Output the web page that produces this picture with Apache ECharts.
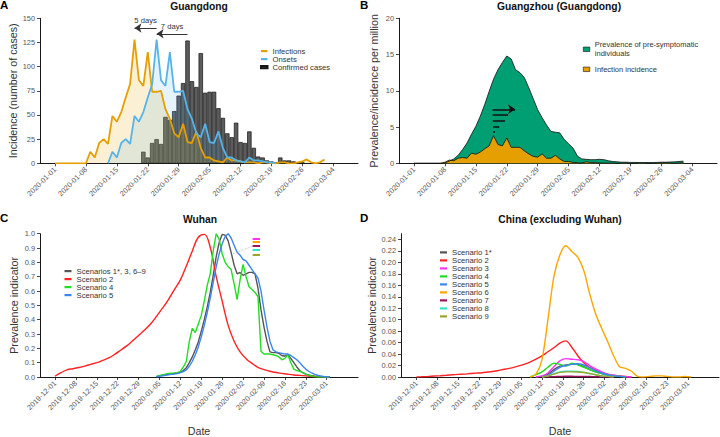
<!DOCTYPE html>
<html><head><meta charset="utf-8">
<script src="https://cdn.jsdelivr.net/npm/echarts@6/dist/echarts.min.js"></script>
<style>html,body{margin:0;padding:0;background:#fff}#c{width:720px;height:437px}</style>
</head><body><div id="c"></div>
<script>
const _ = null;
// ---------- tick labels ----------
const abTickLabels = ['2020-01-01','2020-01-08','2020-01-15','2020-01-22','2020-01-29','2020-02-05','2020-02-12','2020-02-19','2020-02-26','2020-03-04'];
const cdTickLabels = ['2019-12-01','2019-12-08','2019-12-15','2019-12-22','2019-12-29','2020-01-05','2020-01-12','2020-01-19','2020-01-26','2020-02-02','2020-02-09','2020-02-16','2020-02-23','2020-03-01'];
const aYTicks = [0,25,50,75,100,125,150];
const bYTicks = [0,5,10,15,20];
const cYTicks = [0,0.1,0.2,0.3,0.4,0.5,0.6,0.7,0.8,0.9,1.0];
const dYTicks = [0,0.02,0.04,0.06,0.08,0.10,0.12,0.14,0.16,0.18,0.20,0.22,0.24];

// ---------- panel A: Guangdong (daily from 2020-01-01, 62 days) ----------
const abStart = '2020-01-01', abDays = 62;
const infections = [0,0,0,0,0,0,0,0, 12,6,21,25,20, 49,43,53,68,82, 128,86,80,115,74, 74,75,56,46,31,
  27,41,22,21,33, 16,6,6,3,2, 1,6,3,3,2, 1,1,1,0,1, 1,0,0,1,1, 0,0,1,2,4, 1,0,1,4];
const onsets = [_,_,_,_,_,_,_,_,_,_,_,_, 0,12,6,21,25, 20,49,43,53,68, 82,128,86,80,115, 74,74,75,56,46,
  31,27,41,22,21, 33,16,6,6,3, 2,1,6,3,3, 2,1,1,0,_, _,_,_,_,_, _,_,_,_,_];
const confirmed = [_,_,_,_,_,_,_,_,_,_,_,_,_,_,_,_,_,_,_,_, 12,6,21,25,20, 48,45,54,70,83, 127,85,79,114,73,
  74,74,57,47,31, 27,42,22,21,33, 16,7,6,3,2, 1,6,3,3,2, 1,1,_,_,_, _,_];

// ---------- panel B: Guangzhou ----------
const prevalence = [0,0,0,0,0,0,0, 0.05,0.3,0.6,1.1,1.9, 2.8,4.0,5.1,6.5,8.1, 9.9,11.6,12.9,13.9,14.8,
  14.4,12.9,12.5,11.8,10.4, 8.9,7.4,6.3,5.3,4.4, 4.3,4.2,3.3,2.7,2.1, 1.0,0.6,0.55,0.5,0.5,
  0.55,0.5,0.35,0.25,0.2, 0.15,0.15,0.12,0.12,0.1, 0.1,0.1,0.1,0.12,0.15, 0.15,0.18,0.2,0.25,0.3];
const incidence = [0,0,0,0,0,0,0, 0.15,0.45,0.35,0.7,0.8, 0.7,1.4,1.25,1.55,2.0, 2.4,3.8,2.6,2.4,3.5,
  2.2,2.2,2.2,1.7,1.3, 0.95,0.85,1.3,0.7,0.7, 1.1,0.6,0.25,0.25,0.12, 0.1,0.05,0.2,0.1,0.1,
  0.05,0.03,0.03,0.03,0, 0.03,0.03,0,0,0.03, 0.03,0,0,0.03,0.05, 0.1,0.03,0,0.03,0.1];

// ---------- panel C: Wuhan ----------
const cd2Start = '2019-12-01', cd2Days = 47, cd2Step = 2;   // every 2 days
const cDailyStart = '2020-01-04', cDailyDays = 59;           // daily
const wuhanS2 = [0.005,0.03,0.05,0.058,0.066, 0.076,0.088,0.1,0.116,0.133, 0.158,0.187,0.217,0.253,0.29,
  0.328,0.37,0.423,0.48,0.54, 0.61,0.678,0.775,0.88,0.975, 0.995,0.905,0.7,0.53,0.36,
  0.25,0.175,0.128,0.095,0.068, 0.052,0.04,0.031,0.025,0.019, 0.014,0.011,0.008,0.005,0.003, 0.002,0.001];
const wuhanS1 = [0.003,0.008,0.012,0.016,0.02, 0.022,0.025,0.028,0.033,0.045, 0.065,0.1,0.14,0.19,0.245,
  0.32,0.4,0.49,0.59,0.71, 0.84,0.94,0.995,0.99,0.95, 0.87,0.78,0.72,0.73,0.71, 0.72,0.73,0.73,0.72,0.62,
  0.47,0.35,0.25,0.175,0.17, 0.17,0.165,0.15,0.145,0.155, 0.13,0.1,0.07,0.045,0.03, 0.02,0.014,0.01,0.006,0.004, 0.002,0.001,0,0];
const wuhanS5 = [0.002,0.005,0.008,0.012,0.015, 0.018,0.02,0.024,0.03,0.038, 0.05,0.075,0.11,0.155,0.21,
  0.28,0.36,0.45,0.55,0.66, 0.77,0.86,0.93,0.98,1.0, 0.97,0.92,0.87,0.85,0.82, 0.81,0.78,0.75,0.72,0.69,
  0.6,0.47,0.35,0.25,0.19, 0.175,0.17,0.165,0.16,0.16, 0.15,0.135,0.12,0.1,0.075, 0.055,0.04,0.028,0.018,0.012, 0.007,0.004,0.002,0];
const wuhanS4 = [0.005,0.01,0.015,0.02,0.025, 0.027,0.028,0.03,0.04,0.07, 0.11,0.25,0.34,0.31,0.37,
  0.43,0.53,0.64,0.72,0.88, 1.0,0.96,0.86,0.8,0.77, 0.75,0.65,0.54,0.68,0.785, 0.7,0.63,0.61,0.59,0.56,
  0.18,0.16,0.16,0.16,0.155, 0.15,0.14,0.12,0.13,0.155, 0.1,0.055,0.045,0.04,0.03, 0.02,0.012,0.007,0.003,0, 0,0,0,0];

// ---------- panel D: China excluding Wuhan (every 2 days from 2019-12-01) ----------
const chinaS2 = [0,0.0005,0.001,0.0017,0.0023, 0.003,0.0038,0.0045,0.005,0.006, 0.0067,0.0075,0.0088,0.01,0.012,
  0.014,0.016,0.019,0.022,0.026, 0.031,0.037,0.044,0.051,0.059, 0.063,0.052,0.037,0.025,0.017,
  0.012,0.008,0.005,0.003,0.002, 0.001,0,_,_,_, _,_,_,_,_, _,_];
const chinaS1 = [_,_,_,_,_,_,_,_,_,_,_,_,_,_,_,_,_,_,_,_, 0,0.001,0.005,0.013,0.019, 0.021,0.022,0.022,0.018,0.013,
  0.009,0.006,0.003,0.002,0.001, 0,_,_,_,_, _,_,_,_,_, _,_];
const chinaS3 = [_,_,_,_,_,_,_,_,_,_,_,_,_,_,_,_,_,_,_,_, 0,0.002,0.007,0.018,0.028, 0.032,0.031,0.03,0.027,0.02,
  0.014,0.009,0.005,0.003,0.0015, 0.0005,0,_,_,_, _,_,_,_,_, _,_];
const chinaS4 = [_,_,_,_,_,_,_,_,_,_,_,_,_,_,_,_,_,_,_, 0, 0.004,0.009,0.017,0.024,0.022, 0.019,0.024,0.021,0.017,0.013,
  0.009,0.006,0.004,0.002,0.001, 0,_,_,_,_, _,_,_,_,_, _,_];
const chinaS5 = [_,_,_,_,_,_,_,_,_,_,_,_,_,_,_,_,_,_,_,_,_, 0, 0.003,0.01,0.017,0.02,0.022, 0.023,0.021,0.016,0.011,0.007,
  0.004,0.002,0.001,0,_, _,_,_,_,_, _,_,_,_,_];
const chinaS6 = [_,_,_,_,_,_,_,_,_,_,_,_,_,_,_,_,_,_,_, 0, 0.005,0.03,0.1,0.175,0.213, 0.229,0.219,0.209,0.186,0.145,
  0.11,0.085,0.062,0.037,0.018, 0.015,0.01,0.001,0,0.001, 0.002,0.002,0.001,0,0, 0.001,0];
const chinaS7 = [_,_,_,_,_,_,_,_,_,_,_,_,_,_,_,_,_,_,_,_,_, 0, 0.0003,0.0007,0.001,0.0012,0.0012, 0.0011,0.001,0.0008,0.0005,0.0003,
  0.0001,0,_,_,_, _,_,_,_,_, _,_,_,_,_];
const chinaS8 = [_,_,_,_,_,_,_,_,_,_,_,_,_,_,_,_,_,_,_,_,_, 0, 0.002,0.006,0.009,0.01,0.01, 0.0095,0.008,0.006,0.004,0.002,
  0.001,0,_,_,_, _,_,_,_,_, _,_,_,_,_];
const chinaS9 = [_,_,_,_,_,_,_,_,_,_,_,_,_,_,_,_,_,_,_,_,_, 0, 0.002,0.005,0.008,0.009,0.009, 0.0088,0.0078,0.006,0.004,0.002,
  0.001,0,_,_,_, _,_,_,_,_, _,_,_,_,_];

// ---------- helpers ----------
const DAY = 864e5, EPOCH = Date.UTC(2020,0,1);
const FONT = '"Liberation Sans", Arial, Helvetica, sans-serif';
function dayOf(s){ const p = s.split('-'); return (Date.UTC(+p[0], +p[1]-1, +p[2]) - EPOCH) / DAY; }
function dateSeq(start, n, step){ const d0 = dayOf(start), out = []; for (let i=0;i<n;i++){ out.push(new Date(EPOCH + (d0 + i*(step||1))*DAY).toISOString().slice(0,10)); } return out; }
function pairs(dates, vals){ const r=[]; vals.forEach((v,i)=>{ if (v != null) r.push([dayOf(dates[i]), v]); }); return r; }
const abDates = dateSeq(abStart, abDays, 1);
const cd2Dates = dateSeq(cd2Start, cd2Days, cd2Step);
const cDailyDates = dateSeq(cDailyStart, cDailyDays, 1);

function xAx(gi, min, max, labels, name){
  const vals = labels.map(dayOf);
  const ax = {type:'value', gridIndex:gi, min, max,
    axisLine:{show:true, onZero:false, lineStyle:{color:'#1a1a1a', width:1}},
    axisTick:{show:true, customValues:vals, length:3, lineStyle:{color:'#1a1a1a', width:0.8}},
    axisLabel:{show:true, customValues:vals, rotate:45, margin:5, fontSize:7.4, color:'#555', fontFamily:FONT,
      formatter: v => { const i = vals.indexOf(Math.round(v)); return i >= 0 ? labels[i] : ''; }},
    splitLine:{show:false}};
  if (name) Object.assign(ax, {name, nameLocation:'middle', nameGap:48, nameTextStyle:{fontSize:10.7, color:'#333', fontFamily:FONT}});
  return ax;
}
function yAx(gi, max, ticks, name, gap, dec){
  return {type:'value', gridIndex:gi, min:0, max,
    name, nameLocation:'middle', nameGap:gap, nameTextStyle:{fontSize:10.7, color:'#333', fontFamily:FONT},
    axisLine:{show:true, onZero:false, lineStyle:{color:'#1a1a1a', width:1}},
    axisTick:{show:true, customValues:ticks, length:3, lineStyle:{color:'#1a1a1a', width:0.8}},
    axisLabel:{customValues:ticks, margin:5, fontSize:7.4, color:'#555', fontFamily:FONT, formatter: v => v.toFixed(dec)},
    splitLine:{show:false}};
}
function ln(name, gi, dates, vals, color, width, extra){
  return Object.assign({type:'line', name, xAxisIndex:gi, yAxisIndex:gi, data:pairs(dates, vals), symbol:'none', showSymbol:false,
    color, itemStyle:{color}, lineStyle:{color, width}, animation:false}, extra || {});
}

const ORANGE='#E69F00', BLUE='#56B4E9', GREEN='#009E73';
const cGrey='#555555', cRed='#FF2222', cGreen='#22DD22', cBlue='#3A86F5', cMag='#FF33FF', cOr='#FFA500', cMar='#A0145E', cCyan='#2DE6C8', cOlive='#9BA52A';

const series = [
  // ---- A ----
  {type:'bar', name:'Confirmed cases', xAxisIndex:0, yAxisIndex:0, data:pairs(abDates, confirmed), barWidth:4.4,
    itemStyle:{color:'#5c5c5c', borderColor:'#151515', borderWidth:0.7}, animation:false},
  ln('Infections area', 0, abDates, infections, ORANGE, 0, {lineStyle:{width:0}, areaStyle:{color:'rgba(230,159,0,0.24)'}, silent:true}),
  ln('Onsets area', 0, abDates, onsets, BLUE, 0, {lineStyle:{width:0}, areaStyle:{color:'rgba(86,180,233,0.22)'}, silent:true}),
  ln('Infections', 0, abDates, infections, ORANGE, 1.8),
  ln('Onsets', 0, abDates, onsets, BLUE, 1.8, {markLine:{silent:true, animation:false, symbol:['arrow','none'], symbolSize:7,
    lineStyle:{color:'#333', width:1, type:'solid'},
    label:{show:true, position:'middle', formatter:'{b}', fontSize:7.6, color:'#333', fontFamily:FONT, distance:3},
    data:[
      [{name:'5 days', coord:[dayOf('2020-01-19'), 140]}, {coord:[dayOf('2020-01-24'), 140]}],
      [{name:'7 days', coord:[dayOf('2020-01-24'), 134]}, {coord:[dayOf('2020-01-31'), 134]}]
    ]}}),
  // ---- B ----
  ln('Prevalence of pre-symptomatic individuals', 1, abDates, prevalence, GREEN, 0.8,
    {lineStyle:{color:'#111', width:0.8}, areaStyle:{color:GREEN, opacity:1},
     markLine:{silent:true, animation:false, symbol:'none', lineStyle:{color:'#111', width:1.5, type:'solid'}, label:{show:false},
      data:[
        [{coord:[17.8,7.45]}, {coord:[22.9,7.45], symbol:'arrow', symbolSize:7}],
        [{coord:[17.8,6.66]}, {coord:[21.3,6.66]}],
        [{coord:[17.8,5.9]}, {coord:[20.6,5.9]}],
        [{coord:[17.9,5.1]}, {coord:[19.3,5.1]}],
        [{coord:[17.95,4.36]}, {coord:[18.35,4.36]}]
      ]}}),
  ln('Infection incidence', 1, abDates, incidence, ORANGE, 0.8, {lineStyle:{color:'#111', width:0.8}, areaStyle:{color:ORANGE, opacity:1}}),
  // ---- C ----
  ln('Scenarios 1*, 3, 6–9', 2, cDailyDates, wuhanS1, cGrey, 1.4, {markLine:{silent:true, animation:false, symbol:'none', label:{show:false},
    data:[
      [{coord:[28.7,0.861], lineStyle:{color:'#aaaaaa', width:0.8, type:'dotted'}}, {coord:[35.4,0.914]}],
      [{coord:[35.2,0.966], lineStyle:{color:cMag, width:2, type:'solid'}}, {coord:[37.7,0.966]}],
      [{coord:[35.2,0.943], lineStyle:{color:cOr, width:2, type:'solid'}}, {coord:[37.7,0.943]}],
      [{coord:[35.2,0.914], lineStyle:{color:cMar, width:2, type:'solid'}}, {coord:[37.7,0.914]}],
      [{coord:[35.2,0.886], lineStyle:{color:cCyan, width:2, type:'solid'}}, {coord:[37.7,0.886]}],
      [{coord:[35.2,0.856], lineStyle:{color:cOlive, width:2, type:'solid'}}, {coord:[37.7,0.856]}]
    ]}}),
  ln('Scenario 2', 2, cd2Dates, wuhanS2, cRed, 1.4, {smooth:0.4}),
  ln('Scenario 4', 2, cDailyDates, wuhanS4, cGreen, 1.4),
  ln('Scenario 5', 2, cDailyDates, wuhanS5, cBlue, 1.4),
  // ---- D ----
  ln('Scenario 1*', 3, cd2Dates, chinaS1, cGrey, 1.4, {smooth:0.3}),
  ln('Scenario 2', 3, cd2Dates, chinaS2, cRed, 1.4, {smooth:0.3}),
  ln('Scenario 3', 3, cd2Dates, chinaS3, cMag, 1.4, {smooth:0.3}),
  ln('Scenario 4', 3, cd2Dates, chinaS4, cGreen, 1.4, {smooth:0.3}),
  ln('Scenario 5', 3, cd2Dates, chinaS5, cBlue, 1.4, {smooth:0.3}),
  ln('Scenario 6', 3, cd2Dates, chinaS6, cOr, 1.4, {smooth:0.3}),
  ln('Scenario 7', 3, cd2Dates, chinaS7, cMar, 1.4, {smooth:0.3}),
  ln('Scenario 8', 3, cd2Dates, chinaS8, cCyan, 1.4, {smooth:0.3}),
  ln('Scenario 9', 3, cd2Dates, chinaS9, cOlive, 1.4, {smooth:0.3})
];

const legText = {fontSize:7.7, color:'#333', fontFamily:FONT};
const option = {
  animation:false,
  textStyle:{fontFamily:FONT},
  grid:[
    {left:40, top:18.3, width:318, height:145},
    {left:399, top:18.3, width:318, height:145},
    {left:40, top:233.7, width:318, height:146},
    {left:401, top:233.7, width:318, height:146}
  ],
  xAxis:[
    xAx(0, -3.4, 68.6, abTickLabels),
    xAx(1, -3.4, 68.6, abTickLabels),
    xAx(2, -36.03, 70.5, cdTickLabels, 'Date'),
    xAx(3, -36.2, 70.3, cdTickLabels, 'Date')
  ],
  yAxis:[
    yAx(0, 150, aYTicks, 'Incidence (number of cases)', 20.5, 0),
    yAx(1, 20, bYTicks, 'Prevalence/incidence per million', 19.6, 0),
    yAx(2, 1.0, cYTicks, 'Prevalence indicator', 20.6, 1),
    yAx(3, 0.25, dYTicks, 'Prevalence indicator', 22.3, 2)
  ],
  legend:[
    {data:['Infections','Onsets','Confirmed cases'], left:260, top:47.1, orient:'vertical', icon:'rect',
      itemWidth:6.5, itemHeight:2.2, itemGap:0, selectedMode:false, padding:0,
      textStyle:Object.assign({lineHeight:7.7}, legText)},
    {data:[{name:'Prevalence of pre-symptomatic individuals', textStyle:{padding:[9,0,0,0]}}, 'Infection incidence'],
      formatter: n => n === 'Prevalence of pre-symptomatic individuals' ? 'Prevalence of pre-symptomatic\nindividuals' : n,
      left:583, top:35.8, orient:'vertical', icon:'rect', itemWidth:6.5, itemHeight:4.5, itemGap:2, selectedMode:false, padding:0,
      itemStyle:{borderColor:'#111', borderWidth:0.6},
      textStyle:{fontSize:7.5, color:'#333', fontFamily:FONT, lineHeight:9}},
    {data:['Scenarios 1*, 3, 6–9','Scenario 2','Scenario 4','Scenario 5'], left:64.5, top:267.1, orient:'vertical', icon:'rect',
      itemWidth:7, itemHeight:2.2, itemGap:0, selectedMode:false, padding:0, textStyle:Object.assign({lineHeight:7.2}, legText)},
    {data:['Scenario 1*','Scenario 2','Scenario 3','Scenario 4','Scenario 5','Scenario 6','Scenario 7','Scenario 8','Scenario 9'],
      left:440, top:248.4, orient:'vertical', icon:'rect', itemWidth:7, itemHeight:2.2, itemGap:0, selectedMode:false, padding:0,
      textStyle:Object.assign({lineHeight:7.2}, legText)}
  ],
  graphic:[
    {type:'text', x:0, y:5, style:{text:'A', font:'bold 11.5px '+FONT, fill:'#000', verticalAlign:'middle'}},
    {type:'text', x:360, y:5, style:{text:'B', font:'bold 11.5px '+FONT, fill:'#000', verticalAlign:'middle'}},
    {type:'text', x:0, y:218, style:{text:'C', font:'bold 11.5px '+FONT, fill:'#000', verticalAlign:'middle'}},
    {type:'text', x:360, y:218, style:{text:'D', font:'bold 11.5px '+FONT, fill:'#000', verticalAlign:'middle'}},
    {type:'text', x:199, y:6.5, style:{text:'Guangdong', font:'bold 10.3px '+FONT, fill:'#111', align:'center', verticalAlign:'middle'}},
    {type:'text', x:559, y:6.5, style:{text:'Guangzhou (Guangdong)', font:'bold 10.3px '+FONT, fill:'#111', align:'center', verticalAlign:'middle'}},
    {type:'text', x:200, y:219.5, style:{text:'Wuhan', font:'bold 10.3px '+FONT, fill:'#111', align:'center', verticalAlign:'middle'}},
    {type:'text', x:560, y:219.5, style:{text:'China (excluding Wuhan)', font:'bold 10.3px '+FONT, fill:'#111', align:'center', verticalAlign:'middle'}}
  ],
  series
};
const chart = echarts.init(document.getElementById('c'), null, {renderer:'svg', width:720, height:437});
chart.setOption(option);
</script>
</body></html>
